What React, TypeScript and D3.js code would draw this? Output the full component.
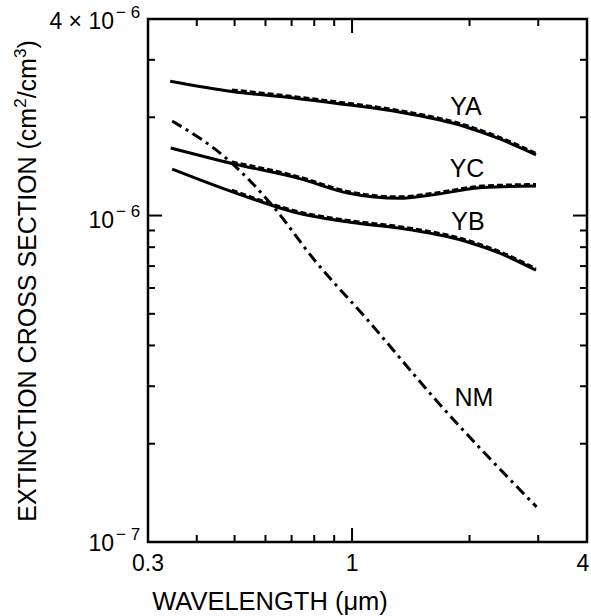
import React, { useEffect, useRef } from "react"
import * as d3 from "d3"

const W = 591
const H = 616
const FRAME = { left: 148, right: 587, top: 19, bottom: 542 }
const FONT = "'Liberation Sans', Arial, Helvetica, sans-serif"

// curves (wavelength in um, cross section in cm^2/cm^3)
const YA_X = [0.342, 0.492, 0.73, 1.0, 1.32, 1.96, 2.39, 2.96]
const YA_Y = [2.58e-6, 2.4e-6, 2.28e-6, 2.176e-6, 2.075e-6, 1.868e-6, 1.717e-6, 1.535e-6]
const YC_X = [0.343, 0.492, 0.73, 0.982, 1.32, 1.61, 2.16, 2.96]
const YC_Y = [1.61e-6, 1.444e-6, 1.3e-6, 1.17e-6, 1.129e-6, 1.157e-6, 1.218e-6, 1.232e-6]
const YB_X = [0.346, 0.492, 0.73, 1.0, 1.32, 1.96, 2.39, 2.96]
const YB_Y = [1.388e-6, 1.184e-6, 1.016e-6, 9.52e-7, 9.15e-7, 8.33e-7, 7.67e-7, 6.8e-7]
const NM_X = [0.346, 0.482, 0.623, 0.806, 1.084, 1.674, 2.97]
const NM_Y = [1.948e-6, 1.479e-6, 1.078e-6, 7.24e-7, 4.86e-7, 2.648e-7, 1.281e-7]

const X_MINOR = [0.4, 0.5, 0.6, 0.7, 0.8, 0.9, 2, 3]
const X_MAJOR = [1]
const Y_MINOR = [2e-7, 3e-7, 4e-7, 5e-7, 6e-7, 7e-7, 8e-7, 9e-7, 2e-6, 3e-6]
const Y_MAJOR = [1e-6]
const X_LABELS = [
  { v: 0.3, t: "0.3" },
  { v: 1, t: "1" },
  { v: 4, t: "4" },
]

const SERIES = [
  { name: "YA", xs: YA_X, ys: YA_Y, label: { x: 466, y: 115 } },
  { name: "YC", xs: YC_X, ys: YC_Y, label: { x: 467, y: 177 } },
  { name: "YB", xs: YB_X, ys: YB_Y, label: { x: 468, y: 230 } },
]

export default function App() {
  const svgRef = useRef<SVGSVGElement | null>(null)

  useEffect(() => {
    const svgEl = svgRef.current
    if (!svgEl) return
    const svg = d3.select(svgEl)
    svg.selectAll("*").remove()

    const x = d3.scaleLog().domain([0.3, 4]).range([FRAME.left, FRAME.right])
    const y = d3.scaleLog().domain([1e-7, 4e-6]).range([FRAME.bottom, FRAME.top])

    const line = d3
      .line<[number, number]>()
      .x(d => x(d[0]))
      .y(d => y(d[1]))
      .curve(d3.curveMonotoneX)

    // frame
    svg
      .append("rect")
      .attr("x", FRAME.left)
      .attr("y", FRAME.top)
      .attr("width", FRAME.right - FRAME.left)
      .attr("height", FRAME.bottom - FRAME.top)
      .attr("fill", "none")
      .attr("stroke", "#000")
      .attr("stroke-width", 2.5)

    const ticks = svg.append("g").attr("stroke", "#000").attr("stroke-width", 2)
    const xt = (vals: number[], len: number) => {
      vals.forEach(v => {
        ticks.append("line").attr("x1", x(v)).attr("x2", x(v)).attr("y1", FRAME.bottom).attr("y2", FRAME.bottom - len)
        ticks.append("line").attr("x1", x(v)).attr("x2", x(v)).attr("y1", FRAME.top).attr("y2", FRAME.top + len)
      })
    }
    const yt = (vals: number[], len: number) => {
      vals.forEach(v => {
        ticks.append("line").attr("y1", y(v)).attr("y2", y(v)).attr("x1", FRAME.left).attr("x2", FRAME.left + len)
        ticks.append("line").attr("y1", y(v)).attr("y2", y(v)).attr("x1", FRAME.right).attr("x2", FRAME.right - len)
      })
    }
    xt(X_MINOR, 7)
    xt(X_MAJOR, 14)
    yt(Y_MINOR, 7)
    yt(Y_MAJOR, 14)

    // x tick labels
    X_LABELS.forEach(l => {
      svg
        .append("text")
        .attr("x", Math.min(x(l.v), 583))
        .attr("y", FRAME.bottom + 29)
        .attr("text-anchor", "middle")
        .attr("font-family", FONT)
        .attr("font-size", 23)
        .text(l.t)
    })

    // y tick labels with superscripts
    const yLabel = (py: number, base: string, exp: string) => {
      svg
        .append("text")
        .attr("x", 114)
        .attr("y", py + 12)
        .attr("text-anchor", "end")
        .attr("font-family", FONT)
        .attr("font-size", 23)
        .text(base)
      svg
        .append("text")
        .attr("x", 116)
        .attr("y", py + 1)
        .attr("font-family", FONT)
        .attr("font-size", 17)
        .text(exp)
    }
    yLabel(y(4e-6) - 2, "4 × 10", "− 6")
    yLabel(y(1e-6), "10", "− 6")
    yLabel(y(1e-7) - 3, "10", "− 7")

    // curves: solid + slightly offset dashed companion
    SERIES.forEach(s => {
      const pts = s.xs.map((v, i) => [v, s.ys[i]] as [number, number])
      svg
        .append("path")
        .attr("d", line(pts))
        .attr("fill", "none")
        .attr("stroke", "#000")
        .attr("stroke-width", 3)
      svg
        .append("path")
        .attr("d", line(pts.slice(1)))
        .attr("transform", "translate(0,-1.8)")
        .attr("fill", "none")
        .attr("stroke", "#000")
        .attr("stroke-width", 2.4)
        .attr("stroke-dasharray", "6 3")
      svg
        .append("text")
        .attr("x", s.label.x)
        .attr("y", s.label.y)
        .attr("text-anchor", "middle")
        .attr("font-family", FONT)
        .attr("font-size", 25)
        .text(s.name)
    })

    const nmPts = NM_X.map((v, i) => [v, NM_Y[i]] as [number, number])
    svg
      .append("path")
      .attr("d", line(nmPts))
      .attr("fill", "none")
      .attr("stroke", "#000")
      .attr("stroke-width", 3)
      .attr("stroke-dasharray", "11 5 3 5")
    svg
      .append("text")
      .attr("x", 474)
      .attr("y", 406)
      .attr("text-anchor", "middle")
      .attr("font-family", FONT)
      .attr("font-size", 25)
      .text("NM")

    // axis titles
    svg
      .append("text")
      .attr("x", 270)
      .attr("y", 610)
      .attr("text-anchor", "middle")
      .attr("font-family", FONT)
      .attr("font-size", 25.5)
      .text("WAVELENGTH (μm)")

    const yt2 = svg
      .append("text")
      .attr("transform", "translate(36,281) rotate(-90)")
      .attr("text-anchor", "middle")
      .attr("font-family", FONT)
      .attr("font-size", 25)
    yt2.append("tspan").text("EXTINCTION CROSS SECTION (cm")
    yt2.append("tspan").attr("font-size", 17).attr("dy", -10).text("2")
    yt2.append("tspan").attr("dy", 10).text("/cm")
    yt2.append("tspan").attr("font-size", 17).attr("dy", -10).text("3")
    yt2.append("tspan").attr("dy", 10).text(")")
  }, [])

  return (
    <svg
      ref={svgRef}
      width={W}
      height={H}
      style={{ position: "absolute", left: 0, top: 0, background: "#fff" }}
    />
  )
}
